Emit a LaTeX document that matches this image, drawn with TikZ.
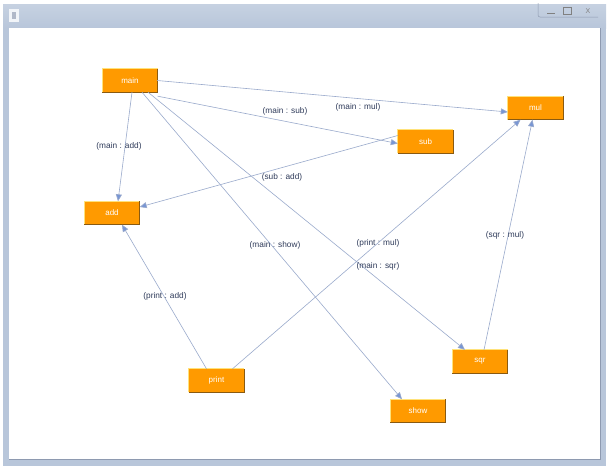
\documentclass[tikz,border=0pt]{standalone}
\usepackage{fontspec}
\setmainfont{Liberation Sans}
\usetikzlibrary{arrows.meta}
\definecolor{boxfill}{HTML}{FF9A00}
\definecolor{boxshadow}{HTML}{8A5A10}
\definecolor{boxtop}{HTML}{FFE27A}
\definecolor{edgecol}{HTML}{9AAACC}
\definecolor{tipcol}{HTML}{7896D4}
\definecolor{labcol}{HTML}{2F3B5A}
\definecolor{framecol}{HTML}{B8C6DA}
\definecolor{framedark}{HTML}{8E9AB0}
\tikzset{
  cls/.style={draw=none, fill=boxfill, text=white, font=\fontsize{8}{9}\selectfont,
    minimum width=55pt, minimum height=23pt, inner sep=0pt},
  dep/.style={draw=edgecol, line width=0.6pt, -{Triangle[length=7pt,width=6pt,fill=tipcol]}},
  lab/.style={text=labcol, font=\fontsize{8.3}{9}\selectfont, inner sep=0pt},
}
\begin{document}
\begin{tikzpicture}[x=1pt,y=-1pt]
\useasboundingbox (0,0) rectangle (607,466);
% window frame
\shade[top color=framecol!80!white, bottom color=framecol] (3,4) rectangle (606,28);
\fill[framecol] (3,28) rectangle (606,466);
\fill[white] (0,0) rectangle (607,4);
\draw[framedark, line width=0.6pt] (9,28) rectangle (600,459);
\fill[white] (9,28) rectangle (600,459);
\fill[white!80!framecol] (9,9) rectangle (19,22);
\fill[framedark!70] (12,12) rectangle (16,19);
\draw[framedark, rounded corners=2pt, line width=0.5pt] (538,3) -- (538,17) -- (598,17);
\draw[gray, line width=0.8pt] (547,13) -- (555,13);
\draw[gray, line width=0.6pt] (563,7) rectangle (571,14);
\node[text=gray, font=\fontsize{7}{8}\selectfont, inner sep=0pt] (xbtn) at (588,11) {X};
% nodes
\node[cls] (main) at (130,80.5) {main};
\node[cls] (mul)  at (535.5,108) {mul};
\node[cls] (sub)  at (425.5,141.5) {sub};
\node[cls] (add)  at (112,213) {add};
\node[cls] (print) at (216.5,380.5) {print};
\node[cls] (sqr)  at (480,361.5) {sqr};
\node[cls] (show) at (418,411) {show};
% box edges (3D look)
\foreach \n in {main,mul,sub,add,print,sqr,show}{
  \draw[boxtop, line width=0.8pt] (\n.south west) |- (\n.north east);
  \draw[boxshadow, line width=1pt] (\n.south west) -- (\n.south east) -- (\n.north east);
}
% edges
\draw[dep] ([xshift=-0.5pt]main.east) -- ([yshift=-4pt]mul.west);
\draw[dep] ([yshift=-4pt]main.south east) -- ([yshift=-2pt]sub.west);
\draw[dep] ([xshift=2pt]main.south) -- ([xshift=6pt]add.north);
\draw[dep] ([yshift=6pt]sub.west) -- ([yshift=6pt]add.east);
\draw[dep] ([xshift=12pt]main.south) -- ([xshift=-16pt]show.north);
\draw[dep] ([xshift=18pt]main.south) -- ([xshift=-15pt]sqr.north);
\draw[dep] ([xshift=-10pt]print.north) -- ([xshift=10pt]add.south);
\draw[dep] ([xshift=16pt]print.north) -- ([xshift=-15pt]mul.south);
\draw[dep] ([xshift=4pt]sqr.north) -- ([xshift=-3pt]mul.south);
% labels
\node[lab] (lmainsub) at (285,111) {(main : sub)};
\node[lab] (lmainmul) at (358,107) {(main : mul)};
\node[lab] (lmainadd) at (119,146) {(main : add)};
\node[lab] (lsubadd) at (282,177) {(sub : add)};
\node[lab] (lmainshow) at (275,245) {(main : show)};
\node[lab] (lprintmul) at (378,243) {(print : mul)};
\node[lab] (lmainsqr) at (378,266) {(main : sqr)};
\node[lab] (lprintadd) at (165,296) {(print : add)};
\node[lab] (lsqrmul) at (505,235) {(sqr : mul)};
\end{tikzpicture}
\end{document}
